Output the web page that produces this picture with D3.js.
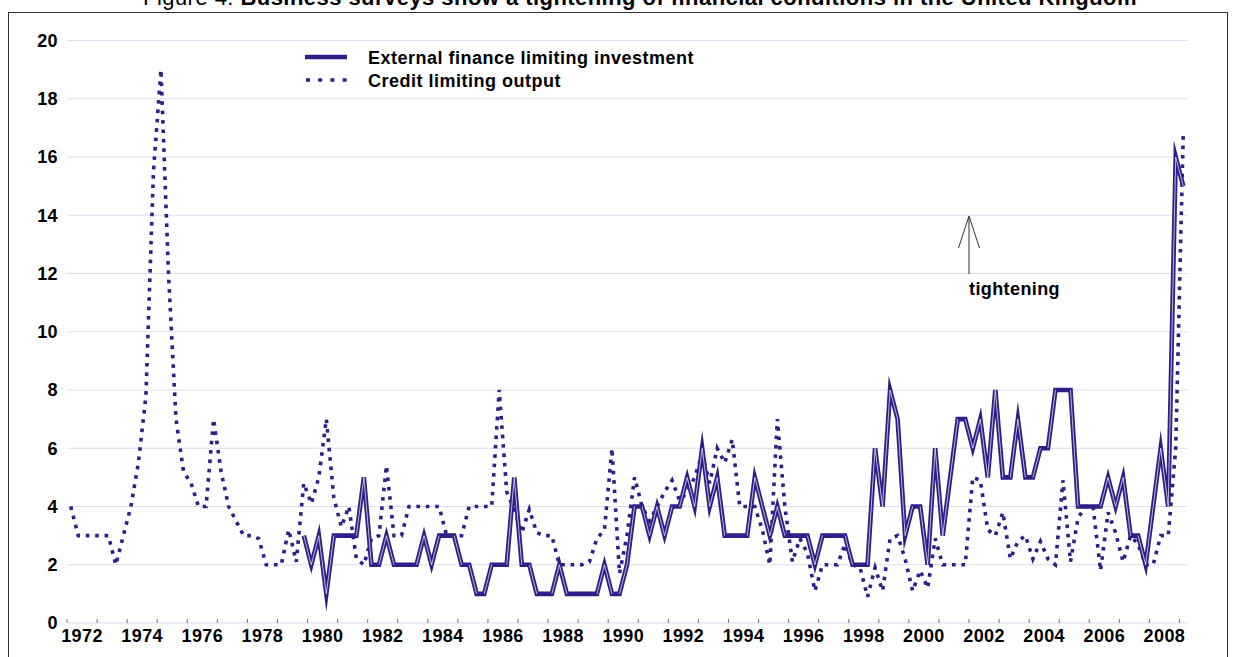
<!DOCTYPE html>
<html><head><meta charset="utf-8">
<script src="https://cdn.jsdelivr.net/npm/d3@7"></script>
<style>
body{margin:0;background:#fff}
svg{display:block}
text{font-family:"Liberation Sans",Arial,Helvetica,sans-serif}
</style>
</head><body>
<svg id="chart" width="1236" height="657"></svg>
<script>
// ---------- DATA ----------
const years = d3.range(1972, 2010);
const quarters = [];
years.forEach(y => [1, 2, 3, 4].forEach(q => { if (y < 2009 || q === 1) quarters.push(y + "Q" + q); }));
const yearLabels = d3.range(1972, 2009, 2);
const yTicks = [0, 2, 4, 6, 8, 10, 12, 14, 16, 18, 20];
const seriesNames = ["External finance limiting investment", "Credit limiting output"];

// Credit limiting output (dotted), quarterly 1972Q1 - 2009Q1
const creditOutput = [
  4, 3, 3, 3, 3, 3, 2, 3,            // 1972-73
  4, 5.5, 7.8, 15.5, 19, 12, 7, 5.2, // 1974-75
  4.8, 4, 4, 7, 5.2, 4, 3.5, 3,      // 1976-77
  3, 2.9, 2, 2, 2, 3.2, 2.1, 4.8,    // 1978-79
  4.1, 5, 7, 4.3, 3.3, 4, 2.2, 2,    // 1980-81
  2.9, 3, 5.4, 3, 3, 4, 4, 4,        // 1982-83
  4, 4, 3, 3, 3, 4, 4, 4,            // 1984-85
  4, 8, 4.5, 3.9, 3.1, 3.9, 3.1, 3,  // 1986-87
  3, 2, 2, 2, 2, 2.1, 2.9, 3.2,      // 1988-89
  6, 1.7, 3, 5, 4, 3.5, 4, 4.5,      // 1990-91
  4.9, 4.2, 4.5, 5, 5.8, 4.8, 6, 5.5, // 1992-93
  6.3, 4, 4, 4, 3.2, 2, 7, 4,        // 1994-95
  2.1, 2.9, 2.4, 1.1, 2, 2, 2, 2.7,  // 1996-97
  2, 1.9, 0.9, 1.9, 1.1, 2.9, 3, 2.2, // 1998-99
  1.1, 1.8, 1.2, 2.9, 2, 2, 2, 2,    // 2000-01
  5, 4.9, 3.2, 3, 3.8, 2.2, 2.8, 3,  // 2002-03
  2.2, 2.8, 2.2, 2, 4.9, 2.1, 3.6, 4, // 2004-05
  4, 1.8, 3.8, 3.1, 2.1, 3, 2.7, 2,  // 2006-07
  2, 3, 3, 6,                        // 2008
  16.8                               // 2009Q1
];

// External finance limiting investment (solid), starts 1979Q4
const externalFinance = [
  null, null, null, null, null, null, null, null,
  null, null, null, null, null, null, null, null,
  null, null, null, null, null, null, null, null,
  null, null, null, null, null, null, null, 3,   // 1978-79
  2, 3, 1, 3, 3, 3, 3, 5,            // 1980-81
  2, 2, 3, 2, 2, 2, 2, 3,            // 1982-83
  2, 3, 3, 3, 2, 2, 1, 1,            // 1984-85
  2, 2, 2, 5, 2, 2, 1, 1,            // 1986-87
  1, 2, 1, 1, 1, 1, 1, 2,            // 1988-89
  1, 1, 2, 4, 4, 3, 4, 3,            // 1990-91
  4, 4, 5, 4, 6, 4, 5, 3,            // 1992-93
  3, 3, 3, 5, 4, 3, 4, 3,            // 1994-95
  3, 3, 3, 2, 3, 3, 3, 3,            // 1996-97
  2, 2, 2, 6, 4, 8, 7, 3,            // 1998-99
  4, 4, 2, 6, 3, 5, 7, 7,            // 2000-01
  6, 7, 5, 8, 5, 5, 7, 5,            // 2002-03
  5, 6, 6, 8, 8, 8, 4, 4,            // 2004-05
  4, 4, 5, 4, 5, 3, 3, 2,            // 2006-07
  4, 6, 4, 16,                       // 2008
  15                                 // 2009Q1
];

// ---------- LAYOUT ----------
const plot = { left: 67, right: 1187, top: 40.5, bottom: 623 };
const navy = "#2d1f87";
const gridColor = "#dcdcef";
const font = "'Liberation Sans', Arial, sans-serif";

const svg = d3.select("#chart");

// frame
svg.append("rect").attr("x", 8.5).attr("y", 12.5).attr("width", 1219).attr("height", 700)
  .attr("fill", "none").attr("stroke", "#333").attr("stroke-width", 1);

// title
const title = svg.append("text").attr("x", 640).attr("y", 5).attr("text-anchor", "middle")
  .attr("font-size", 22).attr("letter-spacing", 0.45).attr("fill", "#000");
title.append("tspan").text("Figure 4. ");
title.append("tspan").attr("font-weight", "bold").text("Business surveys show a tightening of financial conditions in the United Kingdom");

const x = d3.scaleBand().domain(quarters).range([plot.left, plot.right]).paddingInner(0).paddingOuter(0);
const bw = x.bandwidth();
const cx = q => x(q) + bw / 2;
const y = d3.scaleLinear().domain([0, 20]).range([plot.bottom, plot.top]);

// grid lines
svg.append("g").selectAll("line").data(yTicks).join("line")
  .attr("x1", plot.left).attr("x2", plot.right)
  .attr("y1", d => y(d)).attr("y2", d => y(d))
  .attr("stroke", gridColor).attr("stroke-width", 1.2);

// y axis labels
const yAxis = d3.axisLeft(y).tickValues(yTicks).tickSize(0).tickPadding(0).tickFormat(d3.format("d"));
const gy = svg.append("g").attr("transform", `translate(${plot.left - 9},0)`).call(yAxis);
gy.select(".domain").remove();
gy.selectAll("text").attr("font-size", 18).attr("font-weight", "bold").attr("fill", "#000")
  .attr("letter-spacing", 0.4).attr("font-family", font).attr("dy", "0.33em");

// x ticks at the start of each year
const tickQuarters = years.map(yv => yv + "Q1");
svg.append("g").selectAll("line").data(tickQuarters).join("line")
  .attr("x1", d => x(d)).attr("x2", d => x(d))
  .attr("y1", plot.bottom - 4).attr("y2", plot.bottom)
  .attr("stroke", "#777").attr("stroke-width", 1);

// x labels centered on each even year
svg.append("g").selectAll("text").data(yearLabels).join("text")
  .attr("x", d => x(d + "Q1") + 2 * bw)
  .attr("y", plot.bottom + 19)
  .attr("text-anchor", "middle")
  .attr("font-size", 18).attr("font-weight", "bold").attr("letter-spacing", 0.4).attr("fill", "#000")
  .text(d => d);

// lines
const lineGen = d3.line().defined(d => d.v != null).x(d => cx(d.q)).y(d => y(d.v));
const dottedData = quarters.map((q, i) => ({ q, v: creditOutput[i] }));
const solidData = quarters.map((q, i) => ({ q, v: externalFinance[i] }));

svg.append("path").datum(dottedData).attr("d", lineGen)
  .attr("fill", "none").attr("stroke", navy).attr("stroke-width", 3.6)
  .attr("stroke-dasharray", "3.6,5.8").attr("stroke-linejoin", "miter");

svg.append("path").datum(solidData).attr("d", lineGen)
  .attr("fill", "none").attr("stroke", navy).attr("stroke-width", 4.6)
  .attr("stroke-linejoin", "miter").attr("stroke-miterlimit", 8.5);

// thin light core on steep solid segments (as in the original rendering)
const segs = [];
for (let i = 1; i < solidData.length; i++) {
  const a = solidData[i - 1], b = solidData[i];
  if (a.v == null || b.v == null) continue;
  const dy = Math.abs(y(a.v) - y(b.v));
  if (dy > 2.5 * bw) segs.push([a, b]);
}
svg.append("g").selectAll("line").data(segs).join("line")
  .attr("x1", d => cx(d[0].q)).attr("y1", d => y(d[0].v))
  .attr("x2", d => cx(d[1].q)).attr("y2", d => y(d[1].v))
  .attr("stroke", "#ffffff").attr("stroke-width", 0.8).attr("stroke-opacity", 0.85);

// legend
const lg = svg.append("g");
lg.append("line").attr("x1", 305).attr("x2", 347).attr("y1", 57).attr("y2", 57)
  .attr("stroke", navy).attr("stroke-width", 4.6);
lg.append("line").attr("x1", 306).attr("x2", 349).attr("y1", 80).attr("y2", 80)
  .attr("stroke", navy).attr("stroke-width", 3.6).attr("stroke-dasharray", "4,8.2");
lg.selectAll("text").data(seriesNames).join("text")
  .attr("x", 368).attr("y", (d, i) => 63.5 + i * 23)
  .attr("font-size", 18).attr("font-weight", "bold").attr("letter-spacing", 0.5).attr("fill", "#000")
  .text(d => d);

// annotation arrow
const ann = svg.append("g").attr("stroke", "#333").attr("stroke-width", 1).attr("fill", "none");
ann.append("line").attr("x1", 969).attr("x2", 969).attr("y1", 274).attr("y2", 217);
ann.append("polyline").attr("points", "958.5,248 969,216 979.5,248");
svg.append("text").attr("x", 969).attr("y", 295).attr("font-size", 18).attr("font-weight", "bold")
  .attr("letter-spacing", 0.4).attr("fill", "#000").text("tightening");
</script>
</body></html>
